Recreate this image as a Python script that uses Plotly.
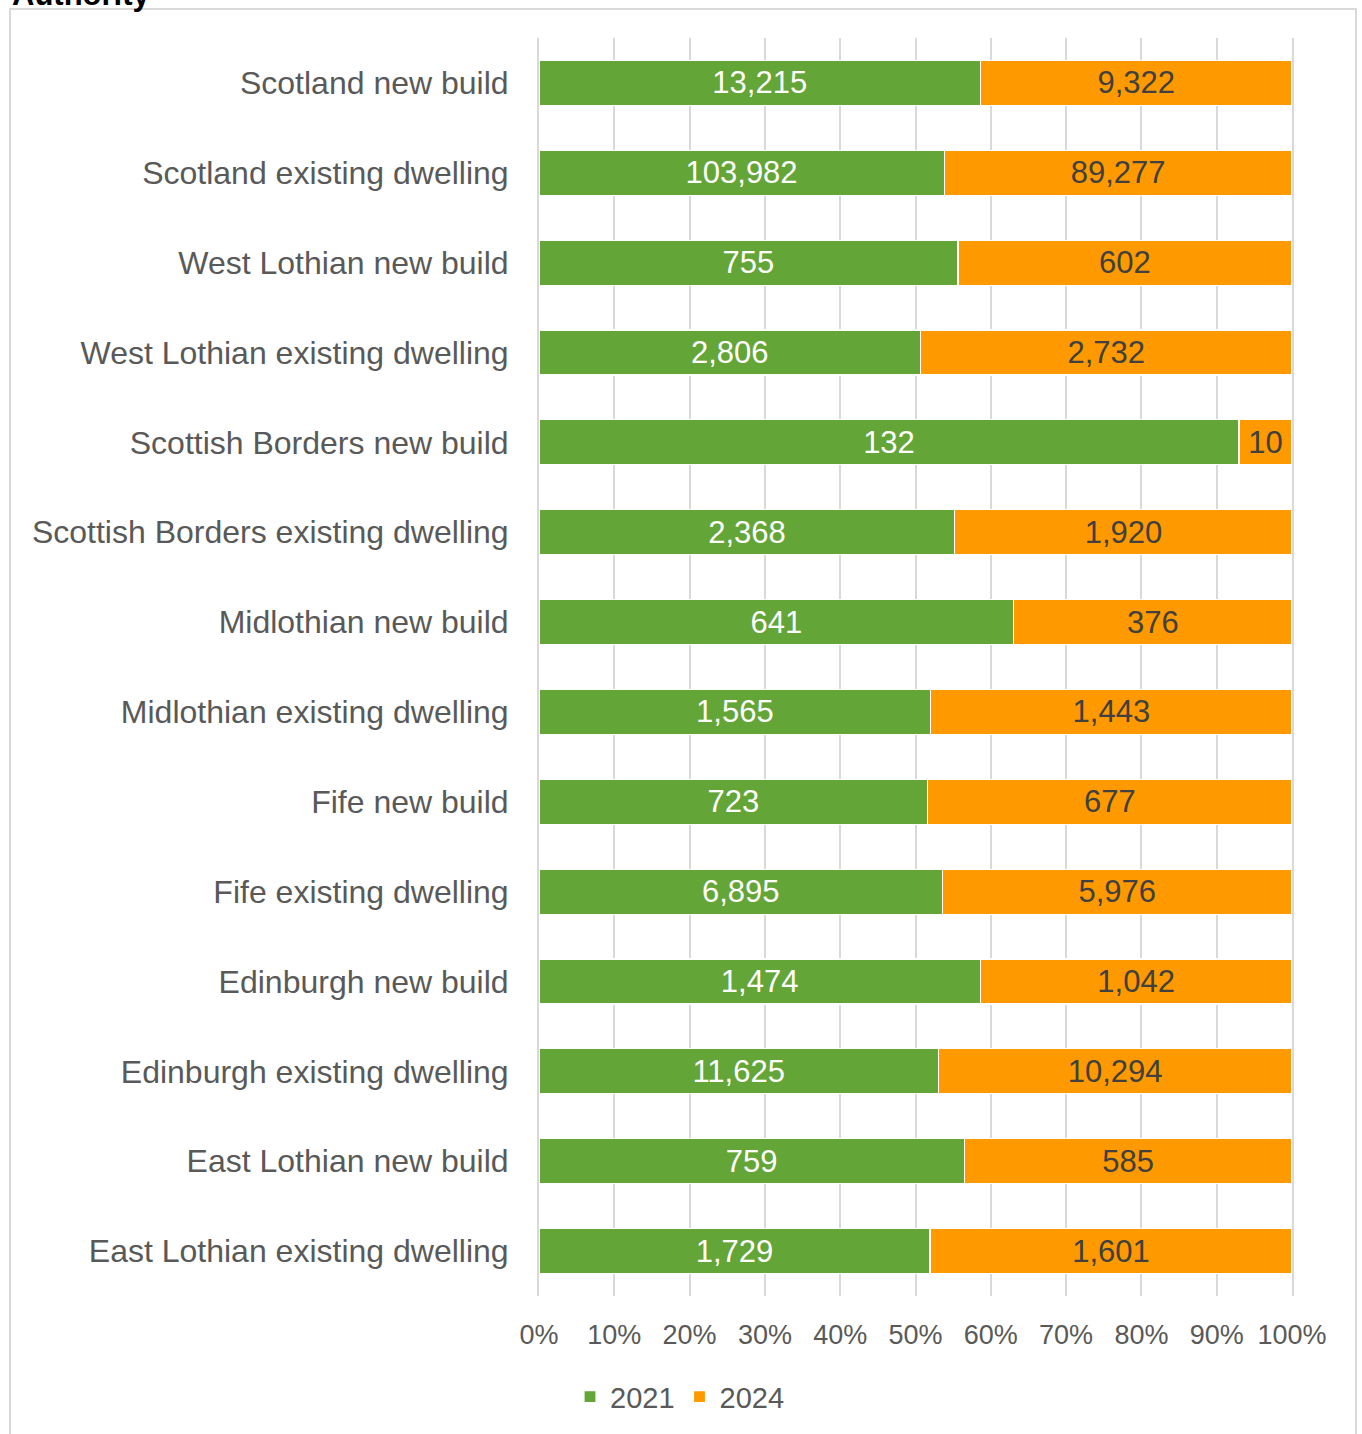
import plotly.graph_objects as go

# Household counts by area and dwelling type, 2021 vs 2024
categories = [
    "Scotland new build",
    "Scotland existing dwelling",
    "West Lothian new build",
    "West Lothian existing dwelling",
    "Scottish Borders new build",
    "Scottish Borders existing dwelling",
    "Midlothian new build",
    "Midlothian existing dwelling",
    "Fife new build",
    "Fife existing dwelling",
    "Edinburgh new build",
    "Edinburgh existing dwelling",
    "East Lothian new build",
    "East Lothian existing dwelling",
]
values_2021 = [13215, 103982, 755, 2806, 132, 2368, 641, 1565, 723, 6895, 1474, 11625, 759, 1729]
values_2024 = [9322, 89277, 602, 2732, 10, 1920, 376, 1443, 677, 5976, 1042, 10294, 585, 1601]
tick_values = [0, 10, 20, 30, 40, 50, 60, 70, 80, 90, 100]
tick_labels = [f"{v}%" for v in tick_values]

GREEN = "#63A537"
ORANGE = "#FF9900"
GRID = "#D9D9D9"
TEXT = "#595959"
FONT = "Liberation Sans, Arial, sans-serif"

W, H = 1362, 1434
ML, MR, MT, MB = 539, 70, 38, 135
PW, PH = W - ML - MR, H - MT - MB


def px_x(px):
    return (px - ML) / PW


def px_y(py):
    return 1 - (py - MT) / PH


fig = go.Figure()
fig.add_trace(go.Bar(
    name="2021", y=categories, x=values_2021, orientation="h",
    marker=dict(color=GREEN, line=dict(color="white", width=1.2)),
    text=[f"{v:,}" for v in values_2021], texttemplate="%{text}",
    textposition="inside", insidetextanchor="middle", textangle=0,
    textfont=dict(color="white", size=31, family=FONT),
    hoverinfo="skip",
))
fig.add_trace(go.Bar(
    name="2024", y=categories, x=values_2024, orientation="h",
    marker=dict(color=ORANGE, line=dict(color="white", width=1.2)),
    text=[f"{v:,}" for v in values_2024], texttemplate="%{text}",
    textposition="inside", insidetextanchor="middle", textangle=0,
    textfont=dict(color="#404040", size=31, family=FONT),
    hoverinfo="skip",
))

fig.update_layout(
    width=W, height=H,
    margin=dict(l=ML, r=MR, t=MT, b=MB, pad=0),
    barmode="stack", barnorm="percent", bargap=0.5,
    paper_bgcolor="white", plot_bgcolor="white",
    font=dict(family=FONT, color=TEXT, size=28),
    showlegend=True,
    legend=dict(
        orientation="h", x=px_x(680), xanchor="center", y=px_y(1400), yanchor="middle",
        font=dict(size=29, color=TEXT, family=FONT), traceorder="normal",
        itemwidth=30,
    ),
    xaxis=dict(
        range=[0, 100], tickmode="array", tickvals=tick_values, ticktext=tick_labels,
        showgrid=True, gridcolor=GRID, gridwidth=2, zeroline=False,
        showline=False, ticks="", ticklabelstandoff=20,
        tickfont=dict(size=27, color=TEXT, family=FONT), fixedrange=True,
    ),
    yaxis=dict(
        autorange="reversed", showgrid=False, zeroline=False,
        showline=True, linecolor=GRID, linewidth=2, mirror=True,
        ticks="", ticklabelstandoff=22,
        tickfont=dict(size=32, color=TEXT, family=FONT), fixedrange=True,
    ),
    shapes=[dict(
        type="rect", xref="paper", yref="paper",
        x0=px_x(10), x1=px_x(1356), y0=px_y(1445), y1=px_y(9),
        line=dict(color=GRID, width=2), fillcolor="rgba(0,0,0,0)", layer="below",
    )],
    annotations=[dict(
        text="<b>Authority</b>", xref="paper", yref="paper",
        x=px_x(10), xanchor="left", y=px_y(-6), yanchor="middle",
        showarrow=False, font=dict(size=31, color="black", family=FONT),
    )],
)

fig.write_html("out.html", config={"displayModeBar": False})
